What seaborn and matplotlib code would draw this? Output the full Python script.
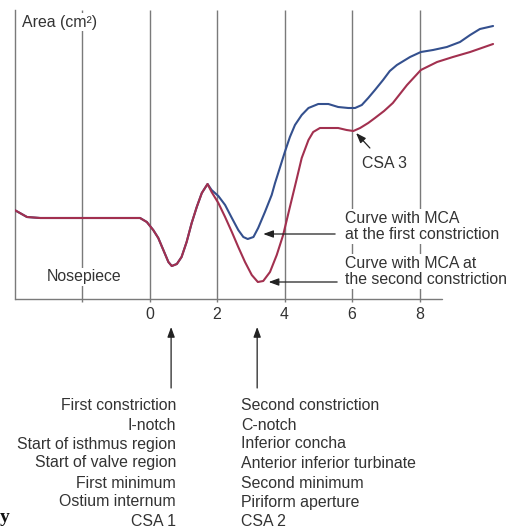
import numpy as np
import pandas as pd
import matplotlib
matplotlib.use("Agg")
import matplotlib.pyplot as plt
import seaborn as sns

# ---- data ----
# shared part of both curves (nosepiece -> first constriction -> peak)
shared_x = [-4.0, -3.84, -3.63, -3.24, -2.03, -1.4, -0.58, -0.28, -0.08, 0.11,
            0.26, 0.41, 0.56, 0.66, 0.81, 0.95, 1.10, 1.25, 1.40, 1.55, 1.72]
shared_y = [0.89, 0.86, 0.82, 0.81, 0.81, 0.81, 0.81, 0.81, 0.77, 0.69,
            0.61, 0.49, 0.37, 0.33, 0.35, 0.42, 0.57, 0.76, 0.92, 1.06, 1.15]

# curve with MCA at the first constriction (blue)
first_x = [1.84, 2.04, 2.24, 2.44, 2.63, 2.78, 2.91, 3.08, 3.22, 3.42, 3.62,
           3.72, 3.87, 4.01, 4.16, 4.31, 4.51, 4.71, 5.00, 5.30, 5.59, 5.89,
           6.09, 6.29, 6.48, 6.68, 6.92, 7.12, 7.33, 7.72, 8.04, 8.40, 8.81,
           9.20, 9.50, 9.79, 10.18]
first_y = [1.09, 1.03, 0.94, 0.81, 0.69, 0.62, 0.60, 0.62, 0.71, 0.87, 1.04,
           1.16, 1.32, 1.47, 1.62, 1.74, 1.84, 1.91, 1.95, 1.95, 1.92, 1.91,
           1.91, 1.94, 2.01, 2.09, 2.19, 2.28, 2.34, 2.42, 2.47, 2.49, 2.52,
           2.57, 2.64, 2.70, 2.73]

# curve with MCA at the second constriction (red)
second_x = [1.84, 2.04, 2.24, 2.44, 2.63, 2.83, 3.03, 3.21, 3.37, 3.57, 3.77,
            3.96, 4.16, 4.34, 4.51, 4.71, 4.85, 5.05, 5.30, 5.59, 5.84, 6.04,
            6.24, 6.48, 6.68, 6.95, 7.21, 7.63, 8.04, 8.52, 8.99, 9.50, 10.18]
second_y = [1.07, 0.96, 0.82, 0.67, 0.52, 0.37, 0.24, 0.17, 0.18, 0.27, 0.44,
            0.64, 0.92, 1.17, 1.41, 1.59, 1.67, 1.71, 1.71, 1.71, 1.69, 1.68,
            1.71, 1.76, 1.81, 1.88, 1.96, 2.14, 2.29, 2.37, 2.42, 2.47, 2.55]

tick_positions = [-2, 0, 2, 4, 6, 8]
tick_labels = ["", "0", "2", "4", "6", "8"]

left_labels = ["First constriction", "I-notch", "Start of isthmus region",
               "Start of valve region", "First minimum", "Ostium internum", "CSA 1"]
right_labels = ["Second constriction", "C-notch", "Inferior concha",
                "Anterior inferior turbinate", "Second minimum",
                "Piriform aperture", "CSA 2"]

# ---- build table ----
df = pd.concat([
    pd.DataFrame({"x": shared_x + first_x, "area": shared_y + first_y,
                  "curve": "first"}),
    pd.DataFrame({"x": shared_x + second_x, "area": shared_y + second_y,
                  "curve": "second"}),
], ignore_index=True)

sns.set_style("white")
plt.rcParams["font.family"] = ["Liberation Sans", "DejaVu Sans"]

W, H = 518, 527
fig = plt.figure(figsize=(W / 100, H / 100), dpi=100)
ax = fig.add_axes([14.5 / W, 1 - 299 / H, 486 / W, 289 / H])

GRAY = "#7a7a7a"
TXT = "#333333"
FS = 11.4

ax.vlines(tick_positions, 0, 2.89, color=GRAY, lw=1.0, zorder=1)

sns.lineplot(data=df, x="x", y="area", hue="curve", hue_order=["first", "second"],
             palette={"first": "#34508e", "second": "#a2304f"}, sort=False,
             estimator=None, units="curve", legend=False, lw=1.5, ax=ax, zorder=3,
             solid_joinstyle="round", solid_capstyle="round")

ax.set_xlim(-4, 10.4)
ax.set_ylim(0, 2.89)
for s in ["top", "right", "bottom"]:
    ax.spines[s].set_visible(False)
ax.spines["left"].set_color(GRAY)
ax.spines["left"].set_linewidth(1.0)
ax.plot([-4, 8.67], [0, 0], color=GRAY, lw=1.0, clip_on=False, zorder=1)

ax.set_xticks(tick_positions)
ax.set_xticklabels(tick_labels)
ax.set_yticks([])
ax.tick_params(axis="x", length=2.5, width=1.0, color=GRAY, pad=3.5,
               labelsize=FS, labelcolor=TXT, bottom=True)
ax.set_xlabel("")
ax.set_ylabel("")

box = dict(boxstyle="square,pad=0.12", fc="white", ec="none")
ax.text(-3.78, 2.77, "Area (cm²)", ha="left", va="center", fontsize=FS,
        color=TXT, bbox=box, zorder=2)
ax.text(-1.94, 0.22, "Nosepiece", ha="center", va="center", fontsize=FS,
        color=TXT, bbox=box, zorder=2)

ax.text(6.95, 1.36, "CSA 3", ha="center", va="center", fontsize=FS, color=TXT, zorder=2)
arrow = dict(arrowstyle="-|>,head_length=0.6,head_width=0.22", color="#222222",
             lw=0.9, shrinkA=0, shrinkB=0)
ax.annotate("", xy=(6.12, 1.66), xytext=(6.53, 1.51), arrowprops=arrow, zorder=4)

ax.text(5.79, 0.725, "Curve with MCA\nat the first constriction", ha="left",
        va="center", fontsize=FS, color=TXT, linespacing=1.1, bbox=box, zorder=2)
ax.text(5.79, 0.275, "Curve with MCA at\nthe second constriction", ha="left",
        va="center", fontsize=FS, color=TXT, linespacing=1.1, bbox=box, zorder=2)
ax.annotate("", xy=(3.37, 0.65), xytext=(5.50, 0.65), arrowprops=arrow, zorder=4)
ax.annotate("", xy=(3.53, 0.17), xytext=(5.56, 0.17), arrowprops=arrow, zorder=4)

# arrows up to the two constrictions (below the axis)
ax.annotate("", xy=(0.64, -0.28), xytext=(0.64, -0.89), arrowprops=arrow,
            annotation_clip=False)
ax.annotate("", xy=(3.19, -0.28), xytext=(3.19, -0.89), arrowprops=arrow,
            annotation_clip=False)

line_y = [405, 425, 444, 463, 483, 502, 521]
for lab, py in zip(left_labels, line_y):
    fig.text(176 / W, 1 - py / H, lab, ha="right", va="center", fontsize=FS, color=TXT)
for lab, py in zip(right_labels, line_y):
    fig.text(241 / W, 1 - py / H, lab, ha="left", va="center", fontsize=FS, color=TXT)

fig.text(0 / W, 1 - 518 / H, "y", ha="left", va="center", fontsize=14,
         fontweight="bold", family="Liberation Serif", color="#111111")

fig.savefig("out.png", dpi=100, facecolor="white")
